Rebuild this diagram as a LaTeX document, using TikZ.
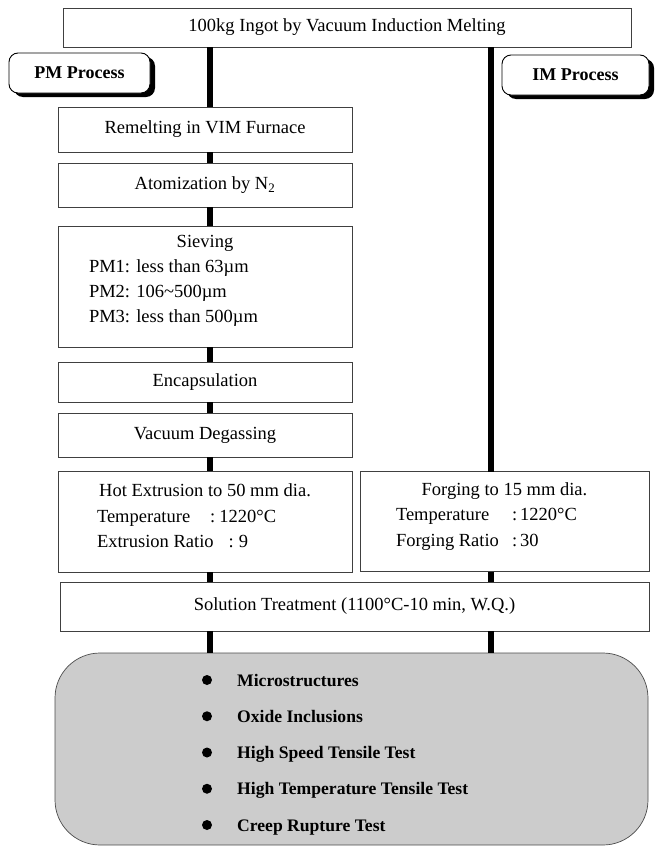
\documentclass[tikz,border=0pt]{standalone}
\usepackage{fontspec}
\setmainfont{Liberation Serif}
\usetikzlibrary{positioning, shadows}

\begin{document}
\begin{tikzpicture}[x=1pt, y=-1pt, font=\fontsize{18.5}{25}\selectfont,
        stepbox/.style={draw=black!75, line width=0.7pt, fill=white, minimum width=294pt, inner sep=0pt, outer sep=0pt},
        procbox/.style={draw, line width=0.9pt, rounded corners=9pt, fill=white, minimum height=40pt, font=\fontsize{18}{22}\selectfont\bfseries, drop shadow={shadow xshift=5pt, shadow yshift=-4pt, fill=black, opacity=1}},
        link/.style={line width=6pt},
        testitem/.style={anchor=base west, inner sep=0pt, font=\fontsize{17.6}{20}\selectfont\bfseries}]
        \useasboundingbox (0,0) rectangle (655,846);

        \node[stepbox, minimum width=568pt, minimum height=39pt] (ingot) at (347,27.5) {100kg Ingot by Vacuum Induction Melting};
        \node[procbox, minimum width=141pt] (pmproc) at (79.5,73) {PM Process};
        \node[procbox, minimum width=147pt] (improc) at (575.5,75) {IM Process};

        \node[stepbox, minimum height=45pt] (remelt) at (205,129.5) {Remelting in VIM Furnace};
        \node[stepbox, minimum height=44pt, below=11pt of remelt] (atom) {Atomization by N\textsubscript{2}};
        \node[stepbox, minimum height=121pt, below=19pt of atom] (sieve) {\raisebox{5.5pt}[\height][\depth]{\parbox{232pt}{\hspace*{\fill}Sieving\hspace*{\fill}\\PM1: less than 63µm\\PM2: 106\textasciitilde500µm\\PM3: less than 500µm}}};
        \node[stepbox, minimum height=40pt, below=15pt of sieve] (encap) {Encapsulation};
        \node[stepbox, minimum height=44pt, below=11pt of encap] (degas) {Vacuum Degassing};
        \node[stepbox, minimum height=101pt, below=14pt of degas] (hotext) {\raisebox{5.5pt}[\height][\depth]{\parbox{216pt}{\baselineskip=25.5pt\hspace*{-20pt}\hspace*{\fill}Hot Extrusion to 50 mm dia.\hspace*{\fill}\hspace*{-20pt}\\Temperature\hspace{20pt}:\hspace{4pt}1220°C\\Extrusion Ratio\hspace{15pt}:\hspace{5pt}9}}};
        \node[stepbox, minimum width=289pt, minimum height=100pt, right=8pt of hotext] (forge) {\raisebox{5pt}[\height][\depth]{\parbox{217pt}{\baselineskip=25.5pt\hspace*{\fill}Forging to 15 mm dia.\hspace*{\fill}\\\makebox[116pt][l]{Temperature}:\hspace{3pt}1220°C\\\makebox[116pt][l]{Forging Ratio}:\hspace{3pt}30}}};
        \node[stepbox, minimum width=589pt, minimum height=49pt] (solution) at (354.5,606.5) {Solution Treatment (1100°C-10 min, W.Q.)};

        \node[draw=black!70, line width=0.7pt, fill=black!20, rounded corners=45pt, minimum width=593pt, minimum height=192pt] (tests) at (351.5,749) {};
        \foreach \txt [count=\i] in {Microstructures, Oxide Inclusions, High Speed Tensile Test, High Temperature Tensile Test, Creep Rupture Test} {
            \fill (207,{680+36.25*(\i-1)}) circle (5pt);
            \node[testitem] (test\i) at (237,{686+36.25*(\i-1)}) {\txt};
        }

        \coordinate (pmx) at (210,0);
        \coordinate (imx) at (491,0);
        \foreach \a/\b in {ingot/remelt, remelt/atom, atom/sieve, sieve/encap, encap/degas, degas/hotext, hotext/solution, solution/tests}
            \draw[link] (\a.south -| pmx) -- (\b.north -| pmx);
        \foreach \a/\b in {ingot/forge, forge/solution, solution/tests}
            \draw[link] (\a.south -| imx) -- (\b.north -| imx);
    \end{tikzpicture}
\end{document}
